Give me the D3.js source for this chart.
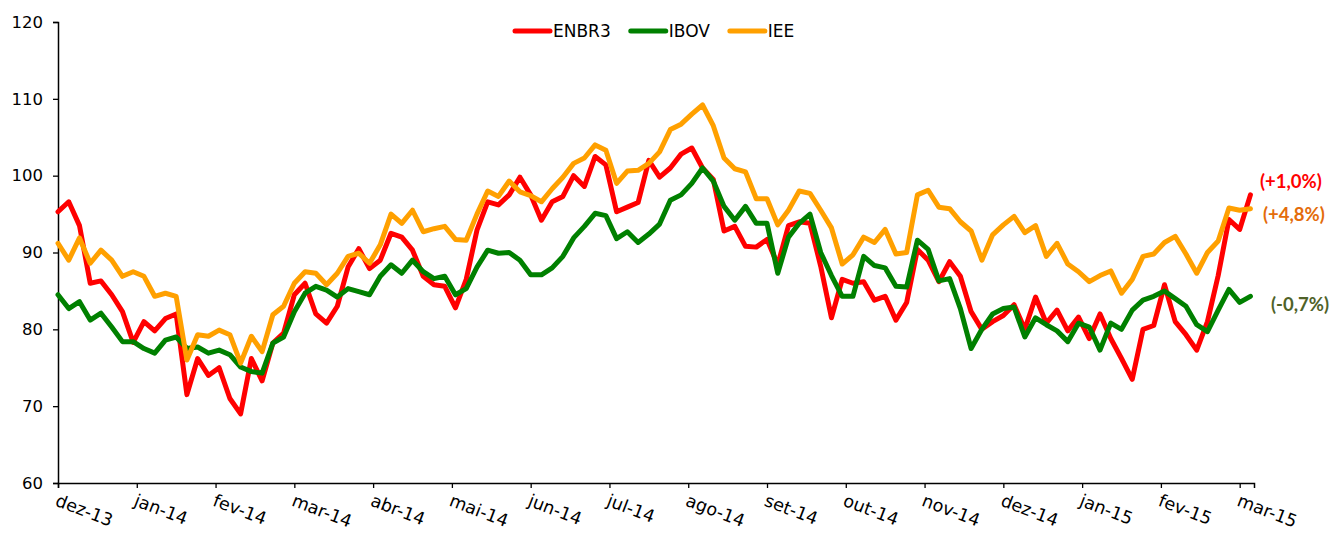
<!DOCTYPE html>
<html>
<head>
<meta charset="utf-8">
<script src="https://cdn.jsdelivr.net/npm/d3@7"></script>
<style>
  body { margin: 0; background: #fff; }
  svg { display: block; }
</style>
</head>
<body>
<svg id="chart" width="1333" height="534"></svg>
<script>
// series sampled every 3 trading days (index 0 = start of dez-13)
const step = 3;
const lastDay = 334;

const enbr3 = [95.3, 96.6, 93.5, 86.0, 86.3, 84.5, 82.3, 78.3, 81.0, 79.8,
  81.4, 82.0, 71.5, 76.2, 74.0, 75.0, 71.0, 69.0, 76.2, 73.3,
  78.2, 79.5, 84.5, 86.0, 82.0, 80.8, 83.0, 88.1, 90.5, 87.9,
  89.0, 92.5, 92.0, 90.3, 86.9, 85.8, 85.6, 82.8, 86.5, 92.9,
  96.6, 96.2, 97.5, 99.8, 97.5, 94.2, 96.6, 97.3, 100.0, 98.6,
  102.5, 101.4, 95.3, 95.9, 96.5, 102.0, 99.8, 101.0, 102.8, 103.6,
  101.0, 99.5, 92.8, 93.4, 90.8, 90.7, 91.7, 88.4, 93.5, 94.0,
  93.8, 88.2, 81.5, 86.5, 86.0, 86.2, 83.8, 84.3, 81.2, 83.5,
  90.4, 89.0, 86.2, 88.8, 86.9, 82.3, 80.0, 81.0, 81.8, 83.2,
  80.0, 84.2, 80.8, 82.5, 79.8, 81.6, 78.8, 82.0, 78.8, 76.2,
  73.5, 80.0, 80.5, 85.8, 81.0, 79.3, 77.3, 81.0, 87.0, 94.3,
  93.0, 97.5];

const ibov = [84.5, 82.7, 83.6, 81.2, 82.1, 80.3, 78.4, 78.4, 77.5, 76.9,
  78.6, 79.0, 77.5, 77.7, 76.9, 77.3, 76.7, 75.1, 74.5, 74.3,
  78.2, 79.0, 82.3, 84.7, 85.6, 85.1, 84.2, 85.3, 84.9, 84.5,
  86.9, 88.4, 87.3, 89.0, 87.5, 86.6, 86.9, 84.5, 85.3, 88.1,
  90.3, 89.9, 90.0, 89.0, 87.1, 87.1, 88.0, 89.5, 91.9, 93.4,
  95.1, 94.8, 91.8, 92.7, 91.3, 92.4, 93.7, 96.8, 97.5, 99.0,
  101.0, 99.3, 96.0, 94.2, 96.0, 93.8, 93.8, 87.3, 92.0, 93.8,
  95.0, 90.0, 87.0, 84.3, 84.3, 89.5, 88.3, 88.0, 85.6, 85.5,
  91.6, 90.4, 86.3, 86.6, 82.7, 77.5, 80.0, 82.0, 82.7, 82.9,
  79.0, 81.5, 80.6, 79.8, 78.4, 80.8, 80.3, 77.3, 80.8, 80.0,
  82.5, 83.8, 84.3, 85.0, 84.0, 83.0, 80.6, 79.7, 82.5, 85.2,
  83.5, 84.3];

const iee = [91.2, 89.0, 91.9, 88.6, 90.3, 89.0, 86.9, 87.5, 86.9, 84.3,
  84.7, 84.3, 76.0, 79.3, 79.1, 79.9, 79.3, 75.6, 79.1, 77.1,
  81.9, 83.0, 86.0, 87.5, 87.3, 85.8, 87.3, 89.5, 89.9, 88.6,
  91.0, 95.0, 93.8, 95.5, 92.7, 93.1, 93.4, 91.7, 91.6, 95.0,
  98.0, 97.3, 99.3, 97.9, 97.4, 96.6, 98.3, 99.8, 101.6, 102.3,
  104.0, 103.3, 99.0, 100.6, 100.7, 101.6, 103.1, 106.0, 106.7, 108.0,
  109.2, 106.5, 102.3, 100.9, 100.5, 97.0, 97.0, 93.6, 95.5, 98.0,
  97.7, 95.5, 93.2, 88.5, 89.7, 92.0, 91.3, 93.0, 89.8, 90.0,
  97.5, 98.1, 95.9, 95.7, 94.0, 92.8, 89.0, 92.3, 93.6, 94.7,
  92.6, 93.5, 89.5, 91.2, 88.5, 87.5, 86.2, 87.0, 87.6, 84.7,
  86.5, 89.5, 89.8, 91.3, 92.1, 89.8, 87.3, 90.0, 91.5, 95.8,
  95.5, 95.7];

const monthLabels = ["dez-13", "jan-14", "fev-14", "mar-14", "abr-14", "mai-14",
  "jun-14", "jul-14", "ago-14", "set-14", "out-14", "nov-14", "dez-14",
  "jan-15", "fev-15", "mar-15"];
const daysPerTick = 22;

const yTicks = [60, 70, 80, 90, 100, 110, 120];

const seriesNames = ["ENBR3", "IBOV", "IEE"];
const seriesColors = ["#ff0000", "#008000", "#ffa000"];
const seriesData = [enbr3, ibov, iee];

// change over the period, shown at the right end
const endLabels = ["(+1,0%)", "(-0,7%)", "(+4,8%)"];
const endLabelColors = ["#ff0000", "#4f6228", "#e46c0a"];
const endLabelValues = [99.2, 83.2, 94.9];

const svg = d3.select("#chart");
const plotLeft = 58, plotRight = 1254, plotTop = 22, plotBottom = 483;

const x = d3.scaleLinear().domain([0, lastDay]).range([plotLeft, plotRight]);
const y = d3.scaleLinear().domain([60, 120]).range([plotBottom, plotTop]);

// y axis
const yAxis = svg.append("g")
    .attr("transform", `translate(${plotLeft},0)`)
    .call(d3.axisLeft(y).tickValues(yTicks).tickSize(5).tickPadding(10));
yAxis.select(".domain").attr("stroke", "#000").attr("stroke-width", 1.5);
yAxis.selectAll(".tick line").attr("stroke", "#000").attr("stroke-width", 1.3);
yAxis.selectAll(".tick text")
    .attr("font-family", "DejaVu Sans, Verdana, sans-serif")
    .attr("font-size", 16.5)
    .attr("fill", "#000");

// x axis: a tick every 22 trading days
const tickDays = monthLabels.map((d, i) => i * daysPerTick);
const xAxis = svg.append("g")
    .attr("transform", `translate(0,${plotBottom})`)
    .call(d3.axisBottom(x).tickValues(tickDays).tickSize(5).tickFormat(""));
xAxis.select(".domain").attr("stroke", "#000").attr("stroke-width", 1.5);
xAxis.selectAll(".tick line").attr("stroke", "#000").attr("stroke-width", 1.3);

svg.append("g").selectAll("text")
    .data(monthLabels)
    .join("text")
    .attr("transform", (d, i) => `translate(${x(tickDays[i]) + 1},${plotBottom + 10}) rotate(21)`)
    .attr("dy", "0.75em")
    .attr("font-family", "DejaVu Sans, Verdana, sans-serif")
    .attr("font-size", 17.5)
    .attr("fill", "#000")
    .text(d => d);

// lines
const line = d3.line()
    .x((d, i) => x(i * step))
    .y(d => y(d));

svg.append("g").selectAll("path")
    .data(seriesData)
    .join("path")
    .attr("d", d => line(d))
    .attr("fill", "none")
    .attr("stroke", (d, i) => seriesColors[i])
    .attr("stroke-width", 5)
    .attr("stroke-linejoin", "round")
    .attr("stroke-linecap", "round");

// legend
const legend = svg.append("g").attr("transform", "translate(515,31)");
let lx = 0;
seriesNames.forEach((name, i) => {
    legend.append("line")
        .attr("x1", lx).attr("x2", lx + 35)
        .attr("y1", 0).attr("y2", 0)
        .attr("stroke", seriesColors[i])
        .attr("stroke-width", 5)
        .attr("stroke-linecap", "round");
    const t = legend.append("text")
        .attr("x", lx + 38)
        .attr("dy", "0.35em")
        .attr("font-family", "DejaVu Sans, Verdana, sans-serif")
        .attr("font-size", 17)
        .attr("fill", "#000")
        .text(name);
    lx += 38 + t.node().getComputedTextLength() + 20;
});

// end labels
const endX = [1260, 1271, 1263];
svg.append("g").selectAll("text")
    .data(endLabels)
    .join("text")
    .attr("x", (d, i) => endX[i])
    .attr("y", (d, i) => y(endLabelValues[i]))
    .attr("dy", "0.35em")
    .attr("font-family", "Lato, Carlito, sans-serif")
    .attr("font-weight", "bold")
    .attr("font-size", 18.5)
    .attr("fill", (d, i) => endLabelColors[i])
    .text(d => d);
</script>
</body>
</html>
